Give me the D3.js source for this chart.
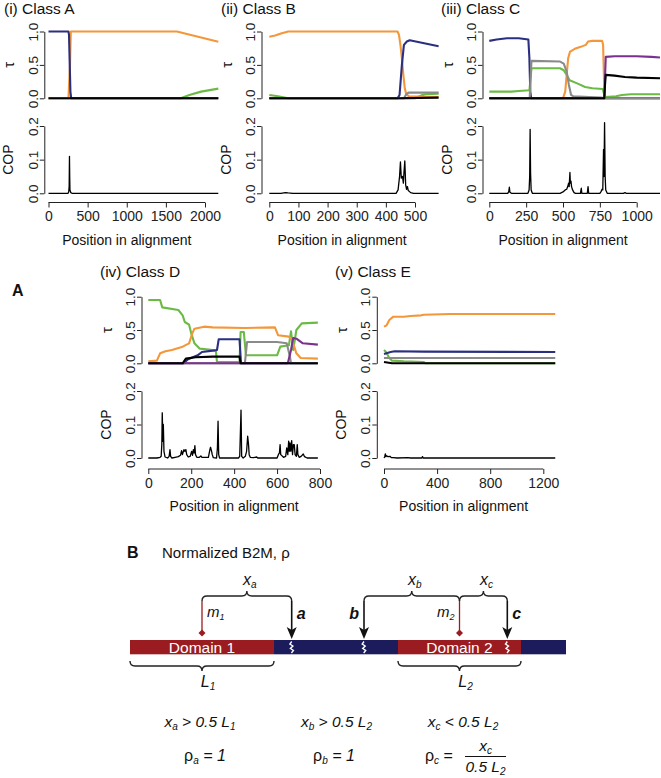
<!DOCTYPE html>
<html><head><meta charset="utf-8">
<script src="https://cdn.jsdelivr.net/npm/d3@7"></script>
<style>
body{margin:0;background:#fff}
svg{display:block}
text{font-family:'Liberation Sans',Arial,Helvetica,sans-serif;fill:#111}
</style>
</head><body>
<svg id="chart" width="661" height="778"></svg>
<script>
// ---------------- DATA ----------------
const panelTitles = ["(i) Class A", "(ii) Class B", "(iii) Class C", "(iv) Class D", "(v) Class E"];
const xTickValues = [[0,500,1000,1500,2000],[0,100,200,300,400,500],[0,250,500,750,1000],[0,200,400,600,800],[0,400,800,1200]];
const tauTickValues = [0, 0.5, 1.0];
const copTickValues = [0, 0.1, 0.2];
const seriesOrder = ["green","orange","blue","gray","purple","black"];
const seriesColors = {green:"#6cba46", orange:"#f3973a", blue:"#2a2f80", gray:"#8a8a8a", purple:"#7a3190", black:"#000000"};

// Class A
const tauA_orange = [[0,0],[255,0],[275,0.5],[285,1.0],[1640,1.0],[2170,0.845]];
const tauA_blue   = [[0,1],[255,1],[262,0.95],[280,0.1],[290,0],[2170,0]];
const tauA_green  = [[0,0],[1690,0],[1800,0.05],[1950,0.1],[2170,0.145]];
const tauA_black  = [[0,0],[2170,0]];
const copA = [[0,0],[250,0],[258,0.004],[264,0.02],[268,0.11],[271,0.05],[274,0.01],[285,0.002],[300,0],[2170,0]];

// Class B
const tauB_orange = [[0,0.92],[20,0.94],[40,0.97],[65,1.0],[440,1.0],[445,0.95],[450,0.8],[455,0.6],[460,0.35],[465,0.15],[470,0.06],[480,0.03],[581,0.02]];
const tauB_blue   = [[0,0],[440,0],[447,0.05],[455,0.5],[462,0.8],[472,0.85],[482,0.87],[581,0.78]];
const tauB_gray   = [[0,0],[462,0],[470,0.06],[478,0.085],[581,0.085]];
const tauB_green  = [[0,0.05],[30,0.03],[65,0],[500,0],[520,0.04],[535,0.06],[581,0.07]];
const tauB_black  = [[0,0],[450,0],[581,0.01]];
const copB = [[0,0],[40,0],[55,0.002],[65,0.001],[80,0],[435,0],[442,0.01],[447,0.05],[450,0.093],[453,0.045],[457,0.05],[460,0.03],[462,0.06],[465,0.096],[468,0.025],[471,0.012],[474,0.02],[477,0.008],[485,0.002],[495,0],[581,0]];

// Class C
const tauC_blue   = [[0,0.86],[50,0.88],[120,0.9],[200,0.9],[265,0.88],[272,0.6],[278,0.1],[284,0],[1158,0]];
const tauC_gray   = [[0,0],[274,0],[280,0.3],[286,0.56],[480,0.55],[505,0.52],[525,0.4],[540,0.2],[555,0.05],[570,0.03],[680,0.02],[760,0.01],[780,0],[1158,0]];
const tauC_green  = [[0,0.1],[150,0.1],[200,0.11],[272,0.12],[280,0.3],[286,0.45],[480,0.45],[505,0.42],[525,0.35],[545,0.27],[600,0.22],[650,0.17],[700,0.15],[770,0.14],[780,0.05],[790,0.02],[860,0.03],[900,0.05],[960,0.06],[1158,0.06]];
const tauC_orange = [[0,0],[500,0],[515,0.1],[525,0.35],[535,0.6],[548,0.7],[580,0.74],[620,0.77],[655,0.8],[670,0.85],[700,0.86],[765,0.86],[772,0.8],[778,0.3],[785,0],[1158,0]];
const tauC_purple = [[0,0],[780,0],[785,0.3],[790,0.62],[850,0.63],[1000,0.63],[1100,0.62],[1158,0.61]];
const tauC_black  = [[0,0],[780,0],[785,0.2],[790,0.35],[850,0.34],[920,0.32],[1000,0.31],[1158,0.3]];
const copC = [[0,0],[125,0],[132,0.005],[136,0.018],[140,0.003],[150,0],[262,0],[270,0.01],[274,0.05],[277,0.19],[280,0.06],[284,0.01],[292,0],[480,0],[500,0.004],[515,0.01],[525,0.012],[532,0.02],[538,0.03],[542,0.02],[547,0.062],[550,0.03],[554,0.036],[558,0.02],[565,0.01],[575,0.002],[585,0],[618,0],[624,0.015],[628,0],[665,0],[670,0.02],[674,0],[750,0],[758,0.005],[765,0.012],[770,0.01],[775,0.13],[778,0.05],[782,0.21],[786,0.05],[790,0.01],[800,0],[910,0],[920,0.002],[930,0],[1158,0]];

// Class D
const tauD_green  = [[0,0.95],[55,0.95],[65,0.84],[140,0.8],[160,0.72],[170,0.62],[190,0.58],[200,0.45],[215,0.3],[240,0.22],[300,0.2],[315,0.18],[320,0.02],[425,0.02],[430,0.47],[445,0.47],[455,0.12],[600,0.12],[615,0.25],[655,0.27],[665,0.48],[675,0.2],[690,0.5],[715,0.6],[790,0.61]];
const tauD_orange = [[0,0.03],[40,0.04],[55,0.15],[80,0.18],[110,0.2],[160,0.25],[190,0.3],[205,0.45],[215,0.52],[260,0.55],[300,0.54],[450,0.53],[590,0.54],[605,0.42],[655,0.4],[670,0.35],[690,0.15],[710,0.08],[790,0.07]];
const tauD_blue   = [[0,0],[165,0],[185,0.06],[230,0.12],[250,0.17],[300,0.19],[320,0.2],[328,0.36],[425,0.36],[432,0],[790,0]];
const tauD_gray   = [[0,0],[450,0],[460,0.32],[600,0.32],[645,0.3],[660,0.1],[665,0],[790,0]];
const tauD_purple = [[0,0],[650,0],[665,0.2],[675,0.38],[690,0.37],[720,0.3],[790,0.28]];
const tauD_black  = [[0,0],[160,0],[175,0.07],[220,0.09],[300,0.1],[425,0.1],[430,0],[790,0]];
const copD = [[0,0],[40,0],[55,0.002],[60,0.005],[63,0.04],[65,0.135],[68,0.05],[70,0.1],[73,0.02],[78,0.003],[90,0],[97,0.005],[101,0.025],[104,0.005],[110,0],[125,0.002],[140,0.004],[150,0.008],[155,0.022],[159,0.01],[166,0.025],[170,0.02],[175,0.025],[179,0.01],[186,0.003],[195,0.005],[202,0.02],[206,0.008],[210,0.025],[214,0.015],[217,0.037],[220,0.01],[226,0.002],[238,0.002],[245,0.006],[250,0.002],[280,0.002],[287,0.025],[290,0.032],[295,0.02],[298,0.01],[303,0.001],[318,0],[322,0.03],[325,0.11],[328,0.01],[332,0],[420,0],[426,0.005],[432,0.143],[435,0.005],[442,0],[452,0.005],[458,0.02],[463,0.065],[467,0.04],[470,0.01],[475,0.002],[490,0.001],[505,0.003],[510,0],[600,0],[606,0.01],[611,0.015],[614,0.04],[617,0.01],[630,0.002],[640,0.005],[645,0.03],[650,0.01],[654,0.05],[657,0.02],[660,0.045],[664,0.02],[668,0.052],[672,0.01],[676,0.04],[680,0.04],[684,0.01],[690,0.005],[694,0.04],[697,0.01],[703,0.002],[712,0.005],[722,0.012],[728,0.004],[740,0],[790,0]];

// Class E
const tauE_orange = [[0,0.55],[20,0.57],[40,0.65],[70,0.7],[150,0.7],[200,0.71],[280,0.72],[300,0.73],[500,0.74],[1290,0.74]];
const tauE_blue   = [[0,0.14],[50,0.17],[80,0.18],[300,0.175],[1290,0.17]];
const tauE_green  = [[0,0.2],[15,0.17],[40,0.08],[60,0.04],[150,0.03],[300,0.02],[310,0],[1290,0]];
const tauE_gray   = [[0,0.08],[1290,0.08]];
const tauE_black  = [[0,0.02],[60,0],[1290,0]];
const copE = [[0,0],[5,0.003],[10,0.012],[14,0.004],[20,0.007],[30,0.004],[45,0.005],[55,0.001],[70,0.001],[100,0],[180,0.001],[200,0],[285,0],[290,0.004],[295,0],[1290,0]];

const tauData = [
  {orange:tauA_orange, blue:tauA_blue, green:tauA_green, black:tauA_black},
  {orange:tauB_orange, blue:tauB_blue, gray:tauB_gray, green:tauB_green, black:tauB_black},
  {blue:tauC_blue, gray:tauC_gray, green:tauC_green, orange:tauC_orange, purple:tauC_purple, black:tauC_black},
  {green:tauD_green, orange:tauD_orange, blue:tauD_blue, gray:tauD_gray, purple:tauD_purple, black:tauD_black},
  {orange:tauE_orange, blue:tauE_blue, green:tauE_green, gray:tauE_gray, black:tauE_black}
];
const copData = [copA, copB, copC, copD, copE];

// ---------------- LAYOUT ----------------
const panelLayout = [
  {x0:48.5,  x1:205,   d1:2000, axisX:44.3,  row:0, titleX:4},
  {x0:269.3, x1:415,   d1:500,  axisX:261.5, row:0, titleX:221},
  {x0:489.3, x1:636.7, d1:1000, axisX:482.5, row:0, titleX:441},
  {x0:148.3, x1:320,   d1:800,  axisX:141.5, row:1, titleX:100},
  {x0:384,   x1:543.3, d1:1200, axisX:376.8, row:1, titleX:335}
];
const rowLayout = [
  {tauTop:31.5, tauBot:98.3, copTop:126, copBot:193.3, axisY:202.5, titleY:14},
  {tauTop:296.7, tauBot:363.3, copTop:391, copBot:458, axisY:469, titleY:277}
];

const svg = d3.select("#chart");
const fmt1 = d3.format(".1f");
const fmtInt = d3.format("d");
const axisColor = "#222";
const FONT = "'Liberation Sans',Arial,sans-serif";

function yAxis(g, scale, ticks, axisX) {
  const ax = g.append("g").attr("transform", `translate(${axisX},0)`)
    .call(d3.axisLeft(scale).tickValues(ticks).tickSize(4.5).tickSizeOuter(0).tickFormat(fmt1));
  ax.select(".domain").attr("stroke", axisColor);
  ax.selectAll(".tick line").attr("stroke", axisColor);
  ax.selectAll(".tick text")
    .attr("x", 0).attr("dy", 0).attr("y", 0)
    .attr("text-anchor", "middle")
    .attr("transform", "translate(-6.5,0) rotate(-90)")
    .style("font-size", "13.5px").style("fill", "#222").style("font-family", FONT);
}

panelLayout.forEach((p, i) => {
  const r = rowLayout[p.row];
  const g = svg.append("g");
  const x = d3.scaleLinear().domain([0, p.d1]).range([p.x0, p.x1]);
  const yT = d3.scaleLinear().domain([0, 1]).range([r.tauBot, r.tauTop]);
  const yC = d3.scaleLinear().domain([0, 0.2]).range([r.copBot, r.copTop]);

  g.append("text").attr("x", p.titleX).attr("y", r.titleY)
    .style("font-size", "15.5px").text(panelTitles[i]);

  yAxis(g, yT, tauTickValues, p.axisX);
  yAxis(g, yC, copTickValues, p.axisX);

  g.append("text")
    .attr("transform", `translate(${p.axisX - 30},${(r.tauTop + r.tauBot) / 2}) rotate(-90)`)
    .attr("text-anchor", "middle").style("font-size", "15px").text("τ");
  g.append("text")
    .attr("transform", `translate(${p.axisX - 31},${(r.copTop + r.copBot) / 2}) rotate(-90)`)
    .attr("text-anchor", "middle").style("font-size", "14px").text("COP");

  // x axis
  const xt = xTickValues[i];
  const xa = g.append("g").attr("transform", `translate(0,${r.axisY})`)
    .call(d3.axisBottom(x).tickValues(xt).tickSize(5).tickSizeOuter(0).tickPadding(4).tickFormat(fmtInt));
  xa.select(".domain").remove();
  xa.append("line").attr("x1", x(xt[0])).attr("x2", x(xt[xt.length - 1]))
    .attr("stroke", axisColor);
  xa.selectAll(".tick line").attr("stroke", axisColor);
  xa.selectAll(".tick text").style("font-size", "14px").style("fill", "#222").style("font-family", FONT);
  g.append("text").attr("x", (x(xt[0]) + x(xt[xt.length - 1])) / 2).attr("y", r.axisY + 42)
    .attr("text-anchor", "middle").style("font-size", "14px").text("Position in alignment");

  // tau lines
  const lineT = d3.line().x(d => x(d[0])).y(d => yT(d[1]));
  seriesOrder.forEach(s => {
    const d = tauData[i][s];
    if (!d) return;
    g.append("path").datum(d).attr("d", lineT).attr("fill", "none")
      .attr("stroke", seriesColors[s]).attr("stroke-width", 2.1)
      .attr("stroke-linejoin", "round");
  });

  // COP line
  const lineC = d3.line().x(d => x(d[0])).y(d => yC(d[1]));
  g.append("path").datum(copData[i]).attr("d", lineC).attr("fill", "none")
    .attr("stroke", "#000").attr("stroke-width", 1.3).attr("stroke-linejoin", "round");
});

svg.append("text").attr("x", 12).attr("y", 296).style("font-size", "16px")
  .style("font-weight", "bold").text("A");

// ---------------- PART B ----------------
const barSegments = [
  {start:0, end:144, kind:"domain", label:"Domain 1"},
  {start:144, end:268, kind:"linker", label:""},
  {start:268, end:391, kind:"domain", label:"Domain 2"},
  {start:391, end:436, kind:"linker", label:""}
];
const midpointMarks = [{pos:72, sub:"1"}, {pos:329.5, sub:"2"}];
const breakMarks = [{pos:161.7, label:"a", side:"right"}, {pos:234, label:"b", side:"left"}, {pos:377.3, label:"c", side:"right"}];
const topBraces = [{from:72, to:161.7, sub:"a"}, {from:234, to:329.5, sub:"b"}, {from:329.5, to:377.3, sub:"c"}];
const bottomBraces = [{from:0, to:144, sub:"1"}, {from:268, to:391, sub:"2"}];

const bx = d3.scaleLinear().domain([0, 436]).range([130, 566]);
const domainRed = "#9a1c20", linkerBlue = "#1c1b5c";
const barTop = 640, barH = 14.3;
const B = svg.append("g");

B.append("text").attr("x", 127).attr("y", 558).style("font-size", "16px").style("font-weight", "bold").text("B");
B.append("text").attr("x", 162).attr("y", 558).style("font-size", "15px").text("Normalized B2M, ρ");

B.selectAll("rect.seg").data(barSegments).enter().append("rect")
  .attr("x", d => bx(d.start)).attr("width", d => bx(d.end) - bx(d.start))
  .attr("y", barTop).attr("height", barH)
  .attr("fill", d => d.kind === "domain" ? domainRed : linkerBlue);
B.selectAll("text.seg").data(barSegments.filter(d => d.label)).enter().append("text")
  .attr("x", d => (bx(d.start) + bx(d.end)) / 2).attr("y", barTop + 12.5)
  .attr("text-anchor", "middle").style("font-size", "15.5px").style("fill", "#fff").text(d => d.label);

function braceUp(x1, x2, y) {
  const xm = (x1 + x2) / 2, r = 5;
  return `M${x1},${y + r} Q${x1},${y} ${x1 + r},${y} L${xm - r},${y} Q${xm},${y} ${xm},${y - r} Q${xm},${y} ${xm + r},${y} L${x2 - r},${y} Q${x2},${y} ${x2},${y + r}`;
}
function braceDown(x1, x2, y) {
  const xm = (x1 + x2) / 2, r = 5;
  return `M${x1},${y - r} Q${x1},${y} ${x1 + r},${y} L${xm - r},${y} Q${xm},${y} ${xm},${y + r} Q${xm},${y} ${xm + r},${y} L${x2 - r},${y} Q${x2},${y} ${x2},${y - r}`;
}
topBraces.forEach(b => {
  B.append("path").attr("d", braceUp(bx(b.from), bx(b.to), 596)).attr("fill", "none")
    .attr("stroke", "#222").attr("stroke-width", 1.4);
  const t = B.append("text").attr("x", (bx(b.from) + bx(b.to)) / 2 + 3).attr("y", 585)
    .attr("text-anchor", "middle").style("font-size", "16px").style("font-style", "italic");
  t.append("tspan").text("x");
  t.append("tspan").attr("dy", 3).style("font-size", "10px").text(b.sub);
});
bottomBraces.forEach(b => {
  B.append("path").attr("d", braceDown(bx(b.from), bx(b.to), 666)).attr("fill", "none")
    .attr("stroke", "#222").attr("stroke-width", 1.4);
  const t = B.append("text").attr("x", (bx(b.from) + bx(b.to)) / 2 + 6).attr("y", 687)
    .attr("text-anchor", "middle").style("font-size", "16px").style("font-style", "italic");
  t.append("tspan").text("L");
  t.append("tspan").attr("dy", 3).style("font-size", "10px").text(b.sub);
});

midpointMarks.forEach((m, k) => {
  const xm = bx(m.pos);
  B.append("line").attr("x1", xm).attr("x2", xm).attr("y1", 601).attr("y2", 633)
    .attr("stroke", domainRed).attr("stroke-width", 1.3);
  B.append("path").attr("d", `M${xm},${629.5} L${xm + 3.5},${633} L${xm},${636.5} L${xm - 3.5},${633} Z`)
    .attr("fill", domainRed);
  const t = B.append("text").attr("y", 617).style("font-size", "15px").style("font-style", "italic")
    .attr("x", k === 0 ? xm + 5 : xm - 5).attr("text-anchor", k === 0 ? "start" : "end");
  t.append("tspan").text("m");
  t.append("tspan").attr("dy", 3).style("font-size", "9px").text(m.sub);
});

breakMarks.forEach(m => {
  const xm = bx(m.pos);
  B.append("line").attr("x1", xm).attr("x2", xm).attr("y1", 601).attr("y2", 630)
    .attr("stroke", "#111").attr("stroke-width", 1.6);
  B.append("path").attr("d", `M${xm - 5},627 L${xm},639 L${xm + 5},627 L${xm},630 Z`).attr("fill", "#111");
  B.append("path").attr("d", `M${xm},641.5 l-1.8,2.5 l3,2 l-2.5,2.5 l3,2 l-2,2.5`)
    .attr("fill", "none").attr("stroke", "#fff").attr("stroke-width", 1.4);
  B.append("text").attr("x", m.side === "right" ? xm + 5 : xm - 5).attr("y", 619)
    .attr("text-anchor", m.side === "right" ? "start" : "end")
    .style("font-size", "16px").style("font-weight", "bold").style("font-style", "italic").text(m.label);
});

const conditions = [
  {cx:200, xs:"a", op:">", ls:"1"},
  {cx:336.5, xs:"b", op:">", ls:"2"},
  {cx:463, xs:"c", op:"<", ls:"2"}
];
conditions.forEach(c => {
  const t = B.append("text").attr("x", c.cx).attr("y", 727).attr("text-anchor", "middle")
    .style("font-size", "15.5px").style("font-style", "italic");
  t.append("tspan").text("x");
  t.append("tspan").attr("dy", 3).style("font-size", "10px").text(c.xs);
  t.append("tspan").attr("dy", -3).text(` ${c.op} 0.5 L`);
  t.append("tspan").attr("dy", 3).style("font-size", "10px").text(c.ls);
});
const rhoRows = [{cx:205, sub:"a"}, {cx:334, sub:"b"}];
rhoRows.forEach(c => {
  const t = B.append("text").attr("x", c.cx).attr("y", 761).attr("text-anchor", "middle")
    .style("font-size", "16px");
  t.append("tspan").text("ρ");
  t.append("tspan").attr("dy", 3).style("font-size", "10px").style("font-style", "italic").text(c.sub);
  t.append("tspan").attr("dy", -3).style("font-style", "italic").text(" = 1");
});
{
  const t = B.append("text").attr("x", 425).attr("y", 761).style("font-size", "16px");
  t.append("tspan").text("ρ");
  t.append("tspan").attr("dy", 3).style("font-size", "10px").style("font-style", "italic").text("c");
  t.append("tspan").attr("dy", -3).text(" =");
  B.append("line").attr("x1", 465).attr("x2", 506).attr("y1", 756.5).attr("y2", 756.5)
    .attr("stroke", "#111").attr("stroke-width", 1.1);
  const n = B.append("text").attr("x", 485.5).attr("y", 751).attr("text-anchor", "middle")
    .style("font-size", "15.5px").style("font-style", "italic");
  n.append("tspan").text("x");
  n.append("tspan").attr("dy", 3).style("font-size", "10px").text("c");
  const dd = B.append("text").attr("x", 485.5).attr("y", 772).attr("text-anchor", "middle")
    .style("font-size", "15.5px").style("font-style", "italic");
  dd.append("tspan").text("0.5 L");
  dd.append("tspan").attr("dy", 3).style("font-size", "10px").text("2");
}
</script>
</body></html>
